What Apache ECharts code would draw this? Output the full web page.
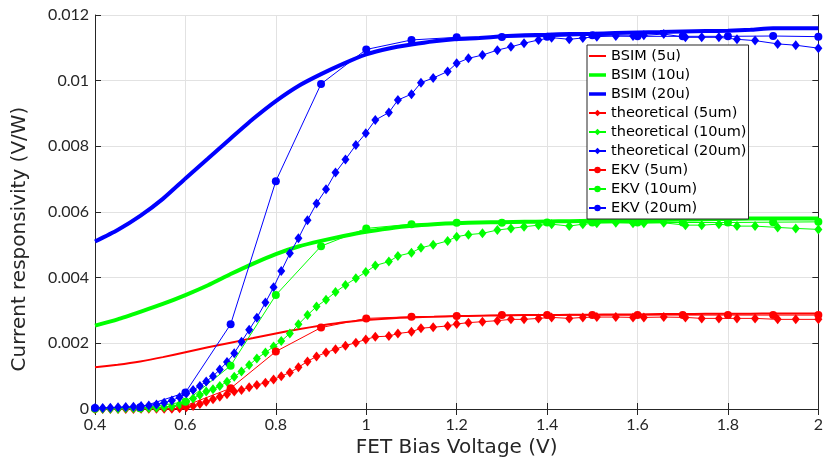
<!DOCTYPE html>
<html>
<head>
<meta charset="utf-8">
<script src="https://cdn.jsdelivr.net/npm/echarts@6/dist/echarts.min.js"></script>
<style>html,body{margin:0;padding:0;background:#fff}#c{width:826px;height:466px}</style>
</head>
<body>
<div id="c"></div>
<script>
// ---- data ----
const X_BSIM = [0.4,0.45,0.5,0.55,0.6,0.65,0.7,0.75,0.8,0.85,0.9,0.95,1.0,1.05,1.1,1.15,1.2,1.25,1.3,1.35,1.4,1.45,1.5,1.55,1.6,1.65,1.7,1.75,1.8,1.85,1.9,1.95,2.0];
const BSIM5  = [0.00127,0.00135,0.00145,0.00158,0.00173,0.00188,0.00202,0.00216,0.0023,0.00243,0.00254,0.00264,0.00271,0.00276,0.00279,0.00281,0.00283,0.00284,0.00285,0.00286,0.00286,0.00287,0.00287,0.00288,0.00288,0.00289,0.00289,0.0029,0.0029,0.0029,0.00291,0.00291,0.00291];
const BSIM10 = [0.00254,0.00273,0.00296,0.0032,0.00347,0.00377,0.00411,0.00443,0.00472,0.00495,0.00512,0.00527,0.0054,0.0055,0.00558,0.00563,0.00566,0.00568,0.00569,0.0057,0.00571,0.00572,0.00573,0.00574,0.00575,0.00576,0.00577,0.00578,0.00579,0.0058,0.0058,0.0058,0.0058];
const BSIM20 = [0.0051,0.00545,0.00588,0.0064,0.00702,0.00763,0.00824,0.00884,0.00938,0.00984,0.0102,0.01052,0.0108,0.01098,0.0111,0.0112,0.01127,0.0113,0.01135,0.01138,0.0114,0.01142,0.01143,0.01145,0.01147,0.01148,0.0115,0.01151,0.01152,0.01155,0.0116,0.0116,0.0116];

const X_TH = [0.400,0.417,0.434,0.451,0.468,0.485,0.502,0.519,0.536,0.553,0.570,0.587,0.602,0.617,0.632,0.646,0.661,0.676,0.692,0.708,0.724,0.741,0.758,0.777,0.795,0.812,0.831,0.850,0.870,0.890,0.911,0.932,0.954,0.977,0.999,1.020,1.050,1.070,1.100,1.121,1.148,1.180,1.200,1.226,1.257,1.290,1.320,1.349,1.381,1.410,1.449,1.479,1.510,1.552,1.590,1.614,1.658,1.706,1.742,1.780,1.820,1.860,1.910,1.950,2.000];
const TH5  = [0,0,0,0,0,0,0.00001,0.00001,0.00001,0.00001,0.00001,0.00002,0.00005,0.00009,0.00015,0.00022,0.0003,0.00037,0.00045,0.00053,0.00058,0.00066,0.00073,0.0008,0.0009,0.001,0.00111,0.00127,0.00145,0.0016,0.00172,0.00182,0.00193,0.00202,0.00212,0.0022,0.00222,0.0023,0.00235,0.00246,0.00249,0.00253,0.00259,0.00263,0.00266,0.00269,0.00273,0.00273,0.00276,0.00279,0.00276,0.00279,0.0028,0.0028,0.00279,0.00279,0.0028,0.00279,0.00276,0.00276,0.00276,0.00276,0.00273,0.00273,0.00273];
const TH10 = [0.00001,0.00001,0.00001,0.00001,0.00002,0.00002,0.00002,0.00003,0.00004,0.00005,0.00008,0.00014,0.00022,0.00032,0.00043,0.00053,0.0006,0.0007,0.00083,0.00098,0.00114,0.00134,0.00154,0.00172,0.0019,0.00207,0.0023,0.00258,0.00286,0.00312,0.00333,0.00356,0.00378,0.00398,0.00417,0.00437,0.00449,0.00466,0.00476,0.00491,0.005,0.00512,0.00525,0.00531,0.00535,0.00545,0.0055,0.00555,0.0056,0.00563,0.00557,0.00563,0.00566,0.00567,0.00566,0.00566,0.00567,0.0056,0.0056,0.00563,0.00557,0.00557,0.00553,0.0055,0.00547];
const TH20 = [0.00003,0.00003,0.00004,0.00005,0.00006,0.00007,0.00009,0.00011,0.00014,0.00019,0.00026,0.00036,0.00047,0.00058,0.0007,0.00084,0.001,0.0012,0.00143,0.0017,0.00205,0.00241,0.00278,0.00324,0.00371,0.0042,0.00474,0.0052,0.00575,0.00626,0.00669,0.0072,0.0076,0.00804,0.0084,0.0088,0.00903,0.00941,0.00959,0.00994,0.01008,0.01028,0.01053,0.01068,0.01078,0.01093,0.01103,0.01114,0.01124,0.01131,0.01126,0.0113,0.01134,0.01136,0.01136,0.01138,0.01142,0.01132,0.01132,0.01132,0.01126,0.01122,0.01112,0.01108,0.01099];

const X_EKV = [0.4,0.5,0.6,0.7,0.8,0.9,1.0,1.1,1.2,1.3,1.4,1.5,1.6,1.7,1.8,1.9,2.0];
const EKV5  = [0.00001,0.00002,0.0001,0.00063,0.00175,0.00248,0.00276,0.00281,0.00283,0.00286,0.00286,0.00286,0.00286,0.00286,0.00286,0.00286,0.00286];
const EKV10 = [0.00001,0.00002,0.00022,0.00132,0.00347,0.00496,0.0055,0.00563,0.00567,0.00567,0.00568,0.00568,0.00568,0.00568,0.00568,0.00569,0.0057];
const EKV20 = [0.00003,0.00005,0.0005,0.00258,0.00694,0.0099,0.01095,0.01124,0.01132,0.01133,0.01134,0.01138,0.01135,0.01135,0.01135,0.01136,0.01134];

const NAMES = ['BSIM (5u)','BSIM (10u)','BSIM (20u)','theoretical (5um)','theoretical (10um)','theoretical (20um)','EKV (5um)','EKV (10um)','EKV (20um)'];
const X_TICKS = [0.4,0.6,0.8,1.0,1.2,1.4,1.6,1.8,2.0];
const Y_TICKS = [0,0.002,0.004,0.006,0.008,0.01,0.012];

// ---- chart ----
const RED='#ff0000', GREEN='#00ff00', BLUE='#0000ff', AX='#262626';
const TICKFONT = 'Lato, "Noto Sans", sans-serif';
const TXTFONT = '"DejaVu Sans", sans-serif';
const zip = (xs, ys) => xs.map((x,i)=>[x, ys[i]]);
const barIcon = h => 'path://M0,0H17V' + h + 'H0Z';

function lineSeries(name, xs, ys, color, width){
  return {name, type:'line', data: zip(xs,ys), symbol:'none', showSymbol:false, smooth:0.2,
    lineStyle:{color, width}, itemStyle:{color}, z:2};
}
function markSeries(name, xs, ys, color, symbol, size){
  return {name, type:'line', data: zip(xs,ys), symbol, symbolSize:size, showSymbol:true,
    lineStyle:{color, width:1}, itemStyle:{color, borderWidth:0}, z:3};
}

const legendData = NAMES.map((n, i) => i === 0 ? {name:n, icon:barIcon(2)}
                                  : i < 3 ? {name:n, icon:barIcon(3.5)} : {name:n});

const chart = echarts.init(document.getElementById('c'), null, {renderer:'canvas'});
const axisCommon = {
  axisLine:{show:true, lineStyle:{color:AX, width:1}},
  axisTick:{show:true, inside:true, length:6, lineStyle:{color:AX}},
};
chart.setOption({
  animation:false,
  backgroundColor:'#fff',
  textStyle:{fontFamily:TICKFONT},
  grid:{left:95, right:6, top:15, bottom:57, containLabel:false},
  xAxis:[{
    type:'value', min:X_TICKS[0], max:X_TICKS[X_TICKS.length-1], interval:0.2,
    ...axisCommon,
    axisLabel:{color:AX, fontSize:16, fontFamily:TICKFONT, margin:8, formatter:v=>String(+v.toFixed(1))},
    splitLine:{show:true, lineStyle:{color:'#e2e2e2', width:1}},
    name:'FET Bias Voltage (V)', nameLocation:'middle', nameGap:27,
    nameTextStyle:{color:AX, fontSize:20, fontFamily:TXTFONT}
  },{
    type:'value', position:'top', min:X_TICKS[0], max:X_TICKS[X_TICKS.length-1], interval:0.2,
    ...axisCommon, axisLabel:{show:false}, splitLine:{show:false}
  }],
  yAxis:[{
    type:'value', min:Y_TICKS[0], max:Y_TICKS[Y_TICKS.length-1], interval:0.002,
    ...axisCommon,
    axisLabel:{color:AX, fontSize:16, fontFamily:TICKFONT, margin:6, formatter:v=>String(+v.toFixed(3))},
    splitLine:{show:true, lineStyle:{color:'#e2e2e2', width:1}},
    name:'Current responsivity (V/W)', nameLocation:'middle', nameGap:65,
    nameTextStyle:{color:AX, fontSize:20, fontFamily:TXTFONT, padding:[0,54,0,0]}
  },{
    type:'value', position:'right', min:Y_TICKS[0], max:Y_TICKS[Y_TICKS.length-1], interval:0.002,
    ...axisCommon, axisLabel:{show:false}, splitLine:{show:false}
  }],
  legend:{
    orient:'vertical', left:587, top:45, data:legendData,
    backgroundColor:'#fff', borderColor:AX, borderWidth:1, borderRadius:0,
    padding:[3,2,3,1], itemGap:3, itemWidth:17, itemHeight:8,
    textStyle:{color:'#000', fontSize:14.5, lineHeight:16, fontFamily:TXTFONT},
    selectedMode:false
  },
  series:[
    lineSeries(NAMES[0], X_BSIM, BSIM5, RED, 2),
    lineSeries(NAMES[1], X_BSIM, BSIM10, GREEN, 4),
    lineSeries(NAMES[2], X_BSIM, BSIM20, BLUE, 4),
    markSeries(NAMES[3], X_TH, TH5, RED, 'diamond', [8,10]),
    markSeries(NAMES[4], X_TH, TH10, GREEN, 'diamond', [8,10]),
    markSeries(NAMES[5], X_TH, TH20, BLUE, 'diamond', [8,10]),
    markSeries(NAMES[6], X_EKV, EKV5, RED, 'circle', 8),
    markSeries(NAMES[7], X_EKV, EKV10, GREEN, 'circle', 8),
    markSeries(NAMES[8], X_EKV, EKV20, BLUE, 'circle', 8)
  ]
});
</script>
</body>
</html>
